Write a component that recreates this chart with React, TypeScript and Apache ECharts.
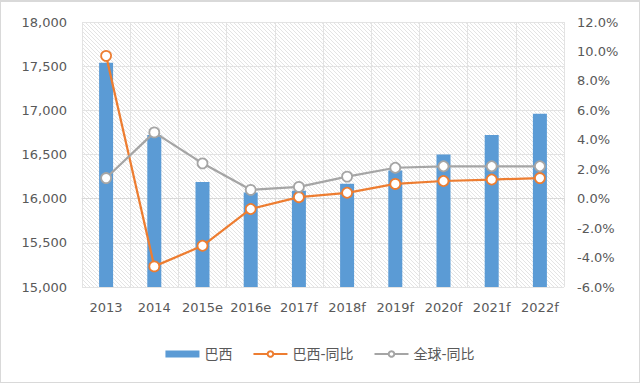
import React, { useEffect, useRef } from "react";
import * as echarts from "echarts";

const categories = ["2013", "2014", "2015e", "2016e", "2017f", "2018f", "2019f", "2020f", "2021f", "2022f"];
const brazil = [17540, 16720, 16190, 16070, 16090, 16170, 16320, 16500, 16720, 16960];
const brazilYoY = [9.7, -4.6, -3.2, -0.7, 0.1, 0.4, 1.0, 1.2, 1.3, 1.4];
const globalYoY = [1.4, 4.5, 2.4, 0.6, 0.8, 1.5, 2.1, 2.2, 2.2, 2.2];

const FONT = "'DejaVu Sans', 'Noto Sans CJK SC', sans-serif";

function makePattern(): HTMLCanvasElement {
  const c = document.createElement("canvas");
  c.width = 4;
  c.height = 4;
  const ctx = c.getContext("2d")!;
  ctx.fillStyle = "#ffffff";
  ctx.fillRect(0, 0, 4, 4);
  ctx.strokeStyle = "#e4e4e4";
  ctx.lineWidth = 1;
  ctx.beginPath();
  ctx.moveTo(0, 0);
  ctx.lineTo(4, 4);
  ctx.moveTo(-1, 3);
  ctx.lineTo(1, 5);
  ctx.moveTo(3, -1);
  ctx.lineTo(5, 1);
  ctx.stroke();
  return c;
}

export default function App() {
  const ref = useRef<HTMLDivElement>(null);
  useEffect(() => {
    if (!ref.current) return;
    const chart = echarts.init(ref.current, undefined, { renderer: "svg" });
    const pattern = makePattern();
    chart.setOption({
      animation: false,
      backgroundColor: "#ffffff",
      grid: {
        left: 81,
        right: 75,
        top: 20,
        bottom: 95,
        show: true,
        borderWidth: 0,
        backgroundColor: { image: pattern, repeat: "repeat" },
      },
      legend: {
        bottom: 16,
        left: "center",
        itemWidth: 34,
        itemHeight: 7,
        itemGap: 20,
        textStyle: { color: "#595959", fontSize: 14, fontFamily: FONT },
        data: [
          { name: "巴西", icon: "rect", itemStyle: { color: "#5b9bd5" } },
          { name: "巴西-同比" },
          { name: "全球-同比" },
        ],
      },
      xAxis: {
        type: "category",
        data: categories,
        boundaryGap: true,
        axisLine: { show: true, lineStyle: { color: "#d9d9d9", width: 1 } },
        axisTick: { show: true, length: 5, interval: 0, lineStyle: { color: "#d9d9d9" } },
        splitLine: { show: true, interval: 0, lineStyle: { color: "#e3e3e3", width: 1 } },
        axisLabel: { color: "#595959", fontSize: 13, fontFamily: FONT, margin: 14, interval: 0 },
      },
      yAxis: [
        {
          type: "value",
          min: 15000,
          max: 18000,
          interval: 500,
          axisLine: { show: false },
          axisTick: { show: false },
          splitLine: { show: true, lineStyle: { color: "#e3e3e3", width: 1 } },
          axisLabel: {
            color: "#595959",
            fontSize: 13,
            fontFamily: FONT,
            margin: 15,
            formatter: (v: number) => v.toLocaleString("en-US"),
          },
        },
        {
          type: "value",
          min: -6,
          max: 12,
          interval: 2,
          axisLine: { show: false },
          axisTick: { show: false },
          splitLine: { show: false },
          axisLabel: {
            color: "#595959",
            fontSize: 13,
            fontFamily: FONT,
            margin: 13,
            formatter: (v: number) => v.toFixed(1) + "%",
          },
        },
      ],
      series: [
        {
          name: "巴西",
          type: "bar",
          data: brazil,
          barWidth: 14,
          itemStyle: { color: "#5b9bd5" },
          yAxisIndex: 0,
        },
        {
          name: "巴西-同比",
          type: "line",
          data: brazilYoY,
          yAxisIndex: 1,
          symbol: "circle",
          symbolSize: 10,
          lineStyle: { color: "#ed7d31", width: 2.25 },
          itemStyle: { color: "#ffffff", borderColor: "#ed7d31", borderWidth: 1.75 },
        },
        {
          name: "全球-同比",
          type: "line",
          data: globalYoY,
          yAxisIndex: 1,
          symbol: "circle",
          symbolSize: 10,
          lineStyle: { color: "#a5a5a5", width: 2.25 },
          itemStyle: { color: "#ffffff", borderColor: "#a5a5a5", borderWidth: 1.75 },
        },
      ],
    });
    return () => chart.dispose();
  }, []);
  return (
    <div
      style={{
        position: "absolute",
        left: 0,
        top: 0,
        width: 640,
        height: 383,
        boxSizing: "border-box",
        border: "1px solid #d9d9d9",
        borderTopWidth: 2,
        background: "#fff",
      }}
    >
      <div ref={ref} style={{ width: 638, height: 380 }} />
    </div>
  );
}
